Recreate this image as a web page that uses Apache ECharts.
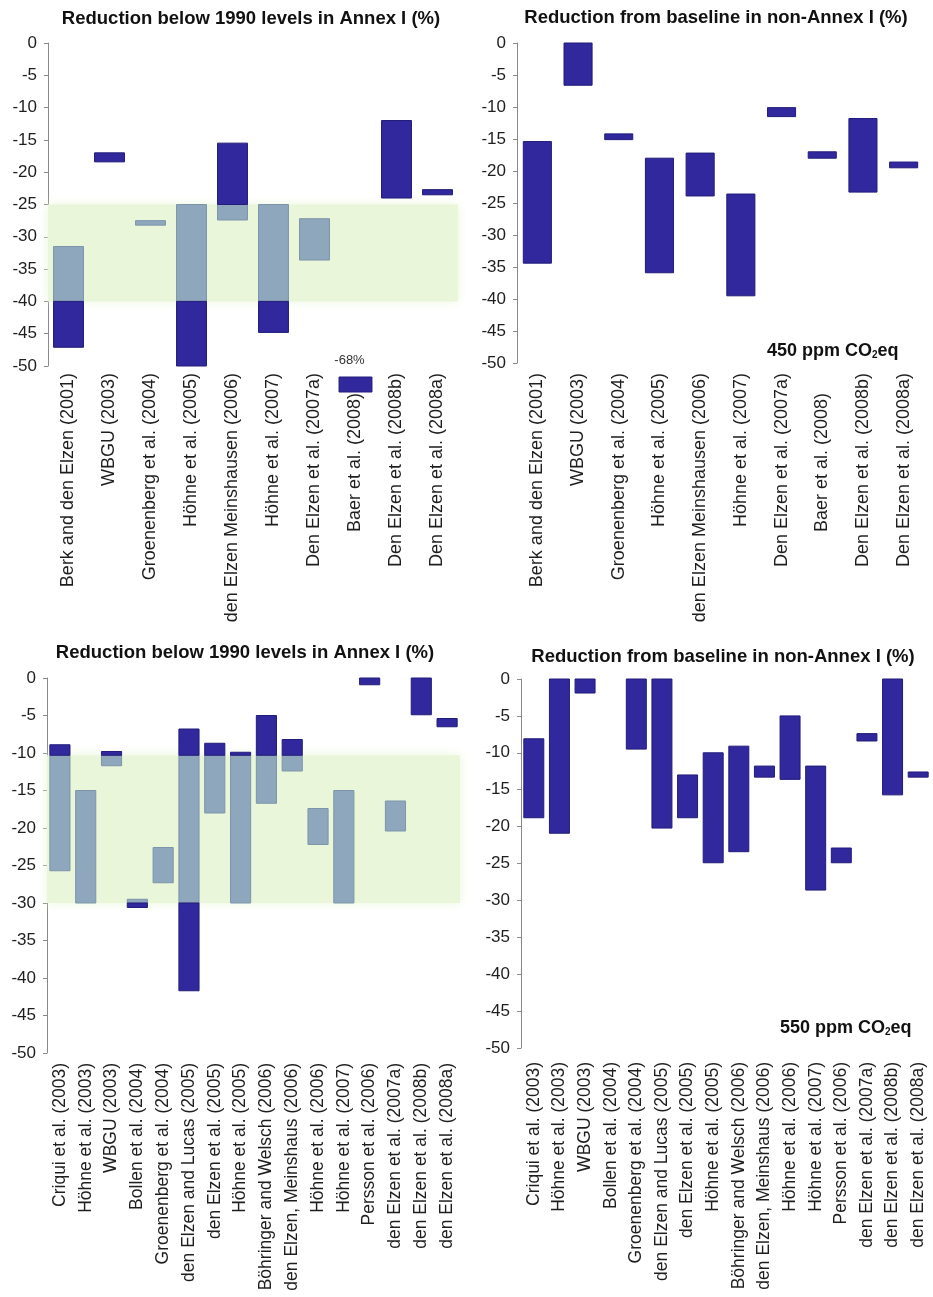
<!DOCTYPE html>
<html>
<head>
<meta charset="utf-8">
<title>Emission reductions for 450 and 550 ppm CO2eq</title>
<script src="https://cdn.jsdelivr.net/npm/echarts@6/dist/echarts.min.js"></script>
<style>
  html, body { margin: 0; padding: 0; background: #ffffff; }
  #chart { width: 933px; height: 1297px; }
</style>
</head>
<body>
<div id="chart"></div>
<script>
// Studies shown for the 450 ppm case (top row)
const CAT_450 = [
  'Berk and den Elzen (2001)', 'WBGU (2003)', 'Groenenberg et al. (2004)',
  'Höhne et al. (2005)', 'den Elzen Meinshausen (2006)', 'Höhne et al. (2007)',
  'Den Elzen et al. (2007a)', 'Baer et al. (2008)', 'Den Elzen et al. (2008b)',
  'Den Elzen et al. (2008a)'
];
// Studies shown for the 550 ppm case (bottom row)
const CAT_550 = [
  'Criqui et al. (2003)', 'Höhne et al. (2003)', 'WBGU (2003)', 'Bollen et al. (2004)',
  'Groenenberg et al. (2004)', 'den Elzen and Lucas (2005)', 'den Elzen et al. (2005)',
  'Höhne et al. (2005)', 'Böhringer and Welsch (2006)', 'den Elzen, Meinshaus (2006)',
  'Höhne et al. (2006)', 'Höhne et al. (2007)', 'Persson et al. (2006)',
  'den Elzen et al. (2007a)', 'den Elzen et al. (2008b)', 'den Elzen et al. (2008a)'
];

// Reduction ranges (upper / lower end, %) per study
const ANNEX1_450_HI = [-31.5, -17.0, -27.5, -25.0, -15.5, -25.0, -27.2, -68, -12.0, -22.7];
const ANNEX1_450_LO = [-47.1, -18.4, -28.2, -50.0, -27.4, -44.8, -33.6, -68, -24.0, -23.5];

const NONANNEX_450_HI = [-15.4, 0.0, -14.2, -18.0, -17.2, -23.6, -10.1, -17.0, -11.8, -18.6];
const NONANNEX_450_LO = [-34.4, -6.6, -15.1, -35.9, -23.9, -39.5, -11.5, -18.0, -23.3, -19.5];

const ANNEX1_550_HI = [-8.9, -15.0, -9.8, -29.5, -22.6, -6.8, -8.7, -9.9, -5.0, -8.2, -17.4, -15.0, 0.0, -16.4, 0.0, -5.4];
const ANNEX1_550_LO = [-25.7, -30.0, -11.7, -30.6, -27.3, -41.7, -18.0, -30.0, -16.7, -12.4, -22.2, -30.0, -0.9, -20.4, -4.9, -6.5];

const NONANNEX_550_HI = [-8.1, 0.0, 0.0, null, 0.0, 0.0, -13.0, -10.0, -9.1, -11.8, -5.0, -11.8, -22.9, -7.4, 0.0, -12.6];
const NONANNEX_550_LO = [-18.8, -20.9, -1.9, null, -9.5, -20.2, -18.8, -24.9, -23.4, -13.3, -13.6, -28.6, -24.9, -8.4, -15.7, -13.3];

// Annex I reduction corridor highlighted in each scenario
const BAND_450 = [-25, -40];
const BAND_550 = [-10.3, -30];

const Y_MIN = -50, Y_MAX = 0, Y_STEP = 5;

const DARK = '#30289c', DARK_EDGE = '#221c7a';
const GREY = '#8ea7bc', GREY_EDGE = '#7d95aa';
const BAND = '#eaf6d9';
const FONT = '"Liberation Sans", Arial, Helvetica, sans-serif';

// Split each range into parts outside (dark) and inside (grey) the corridor
function splitRanges(hi, lo, band) {
  const dark = [], grey = [];
  hi.forEach((h, i) => {
    const l = lo[i];
    if (h === null || l === null || (h < Y_MIN && l < Y_MIN)) return;
    if (!band) { dark.push([i, h, l]); return; }
    const [bTop, bBot] = band;
    if (h > bTop) dark.push([i, h, Math.max(l, bTop)]);
    const gTop = Math.min(h, bTop), gBot = Math.max(l, bBot);
    if (gTop > gBot) grey.push([i, gTop, gBot]);
    if (l < bBot) dark.push([i, Math.min(h, bBot), l]);
  });
  return { dark, grey };
}

// Values beyond the axis minimum are shown as a marker under the axis
function offScale(hi, lo) {
  const out = [];
  hi.forEach((h, i) => { if (h !== null && h < Y_MIN && lo[i] < Y_MIN) out.push([i, lo[i]]); });
  return out;
}

function rangeRenderer(fill, stroke, ratio) {
  return function (params, api) {
    const x = api.value(0);
    const p1 = api.coord([x, api.value(1)]);
    const p2 = api.coord([x, api.value(2)]);
    const w = api.size([1, 0])[0] * ratio;
    return {
      type: 'rect',
      shape: { x: p1[0] - w / 2, y: p1[1], width: w, height: p2[1] - p1[1] },
      style: { fill: fill, stroke: stroke, lineWidth: 1 }
    };
  };
}

function offScaleRenderer(ratio) {
  return function (params, api) {
    const x = api.value(0);
    const v = api.value(1);
    const base = api.coord([x, Y_MIN]);
    const w = api.size([1, 0])[0] * ratio * 1.1;
    return {
      type: 'group',
      children: [
        { type: 'rect', shape: { x: base[0] - w / 2, y: base[1] + 11, width: w, height: 15 },
          style: { fill: DARK, stroke: DARK_EDGE, lineWidth: 1 } },
        { type: 'text', x: base[0] - 6, y: base[1] - 6,
          style: { text: v + '%', font: '13px ' + FONT, fill: '#333', align: 'center', verticalAlign: 'middle' } }
      ]
    };
  };
}

const grids = [
  { left: 48, top: 43, width: 410, height: 323 },
  { left: 517, top: 43, width: 407, height: 320 },
  { left: 47, top: 678, width: 413, height: 375 },
  { left: 521, top: 679, width: 410, height: 369 }
];

const panels = [
  { cats: CAT_450, hi: ANNEX1_450_HI, lo: ANNEX1_450_LO, band: BAND_450, ratio: 0.73, margin: 7, font: 18 },
  { cats: CAT_450, hi: NONANNEX_450_HI, lo: NONANNEX_450_LO, band: null, ratio: 0.69, margin: 10, font: 18 },
  { cats: CAT_550, hi: ANNEX1_550_HI, lo: ANNEX1_550_LO, band: BAND_550, ratio: 0.78, margin: 10, font: 17.5 },
  { cats: CAT_550, hi: NONANNEX_550_HI, lo: NONANNEX_550_LO, band: null, ratio: 0.78, margin: 14, font: 17.5 }
];

// in the top row the Baer et al. label sits lower to leave room for the off-scale marker
const SHIFTED_LABEL = 'Baer et al. (2008)';

const xAxes = [], yAxes = [], series = [];
panels.forEach((p, k) => {
  const labelStyle = { fontSize: p.font, fontFamily: FONT, color: '#1e1e1e' };
  xAxes.push({
    type: 'category', gridIndex: k, data: p.cats, position: 'bottom',
    axisLine: { show: false }, axisTick: { show: false },
    axisLabel: Object.assign({
      interval: 0, rotate: 90, margin: p.margin,
      formatter: (val) => (val === SHIFTED_LABEL && p.cats === CAT_450) ? '{t|' + val + '}{gap|}' : '{t|' + val + '}',
      rich: { t: Object.assign({}, labelStyle), gap: { width: 20, height: 10 } }
    }, labelStyle)
  });
  yAxes.push({
    type: 'value', gridIndex: k, min: Y_MIN, max: Y_MAX, interval: Y_STEP,
    axisLine: { show: true, lineStyle: { color: '#8a8a8a', width: 1 } },
    axisTick: { show: true, length: 4, lineStyle: { color: '#8a8a8a' } },
    splitLine: { show: false },
    axisLabel: { fontSize: 17, fontFamily: FONT, color: '#1e1e1e', margin: 11 }
  });

  const parts = splitRanges(p.hi, p.lo, p.band);
  if (p.band) {
    series.push({
      type: 'custom', xAxisIndex: k, yAxisIndex: k, data: [],
      renderItem: () => null,
      markArea: {
        silent: true,
        itemStyle: { color: BAND, shadowColor: BAND, shadowBlur: 10 },
        data: [[{ yAxis: p.band[0] }, { yAxis: p.band[1] }]]
      },
      z: 1
    });
    series.push({
      type: 'custom', xAxisIndex: k, yAxisIndex: k, z: 3,
      encode: { x: 0, y: [1, 2] }, data: parts.grey,
      renderItem: rangeRenderer(GREY, GREY_EDGE, p.ratio)
    });
  }
  series.push({
    type: 'custom', xAxisIndex: k, yAxisIndex: k, z: 3,
    encode: { x: 0, y: [1, 2] }, data: parts.dark,
    renderItem: rangeRenderer(DARK, DARK_EDGE, p.ratio)
  });
  const off = offScale(p.hi, p.lo);
  if (off.length) {
    series.push({
      type: 'custom', xAxisIndex: k, yAxisIndex: k, z: 3, clip: false,
      data: off, renderItem: offScaleRenderer(p.ratio)
    });
  }
});

const titleFont = 'bold 18.5px ' + FONT;
const graphic = [
  { type: 'text', x: 251, y: 19, style: { text: 'Reduction below 1990 levels in Annex I (%)', font: titleFont, fill: '#111', align: 'center', verticalAlign: 'middle' } },
  { type: 'text', x: 716, y: 18, style: { text: 'Reduction from baseline in non-Annex I (%)', font: titleFont, fill: '#111', align: 'center', verticalAlign: 'middle' } },
  { type: 'text', x: 245, y: 653, style: { text: 'Reduction below 1990 levels in Annex I (%)', font: titleFont, fill: '#111', align: 'center', verticalAlign: 'middle' } },
  { type: 'text', x: 723, y: 657, style: { text: 'Reduction from baseline in non-Annex I (%)', font: titleFont, fill: '#111', align: 'center', verticalAlign: 'middle' } },
  { type: 'text', x: 767, y: 351, z: 10, style: {
      text: '{a|450 ppm CO}{s|2}{a|eq}', verticalAlign: 'middle',
      rich: { a: { font: 'bold 18px ' + FONT, fill: '#111' }, s: { font: 'bold 10px ' + FONT, fill: '#111', padding: [8, 0, 0, 0] } } } },
  { type: 'text', x: 780, y: 1028, z: 10, style: {
      text: '{a|550 ppm CO}{s|2}{a|eq}', verticalAlign: 'middle',
      rich: { a: { font: 'bold 18px ' + FONT, fill: '#111' }, s: { font: 'bold 10px ' + FONT, fill: '#111', padding: [8, 0, 0, 0] } } } }
];

const chart = echarts.init(document.getElementById('chart'), null, { renderer: 'canvas' });
chart.setOption({
  animation: false,
  backgroundColor: '#ffffff',
  grid: grids,
  xAxis: xAxes,
  yAxis: yAxes,
  series: series,
  graphic: graphic
});
</script>
</body>
</html>
